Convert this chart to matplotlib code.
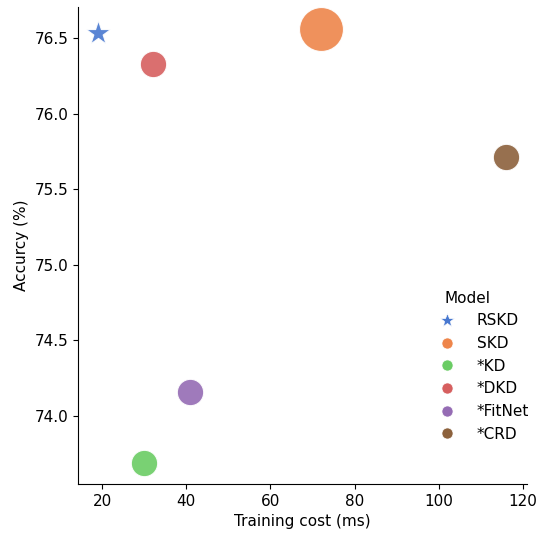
import matplotlib
matplotlib.use("Agg")
import matplotlib.pyplot as plt
import seaborn as sns
from matplotlib.lines import Line2D

models = ["RSKD", "SKD", "*KD", "*DKD", "*FitNet", "*CRD"]
cost = [19, 72, 30, 32, 41, 116]
accuracy = [76.53, 76.56, 73.69, 76.33, 74.16, 75.71]
sizes = [340, 1000, 360, 360, 360, 360]
markers = ["*", "o", "o", "o", "o", "o"]

palette = sns.color_palette("muted", len(models))

fig, ax = plt.subplots(figsize=(5.38, 5.33), dpi=100)
for m, x, y, s, mk, c in zip(models, cost, accuracy, sizes, markers, palette):
    ax.scatter(x, y, s=s, marker=mk, color=c, edgecolor="white", linewidth=0.8, alpha=0.9)

ax.set_xlim(14.3, 121)
ax.set_ylim(73.55, 76.705)
ax.set_xticks([20, 40, 60, 80, 100, 120])
ax.set_yticks([74.0, 74.5, 75.0, 75.5, 76.0, 76.5])
ax.set_xlabel("Training cost (ms)", fontsize=11)
ax.set_ylabel("Accurcy (%)", fontsize=11)
ax.tick_params(labelsize=11)
sns.despine(ax=ax)

handles = [Line2D([0], [0], marker=mk, linestyle="", color=c, markersize=10 if mk == "*" else 8,
                  markeredgecolor="white", markeredgewidth=0.5)
           for mk, c in zip(markers, palette)]
ax.legend(handles, models, title="Model", loc="lower right", bbox_to_anchor=(1.035, 0.06),
          frameon=False, fontsize=11, title_fontsize=11, handlelength=0.3,
          handletextpad=1.8, alignment="left")

plt.subplots_adjust(left=0.145, right=0.98, top=0.987, bottom=0.092)
fig.savefig("out.png", dpi=100)
